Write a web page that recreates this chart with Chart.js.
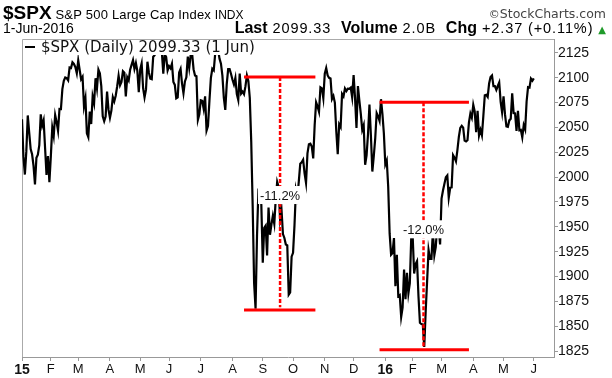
<!DOCTYPE html>
<html>
<head>
<meta charset="utf-8">
<title>$SPX S&amp;P 500 Large Cap Index</title>
<script src="https://cdn.jsdelivr.net/npm/chart.js@4.4.1/dist/chart.umd.min.js"></script>
<style>
html, body { margin: 0; padding: 0; background: #fff; }
#graphCanvas { display: block; }
</style>
</head>
<body>
<canvas id="graphCanvas" width="612" height="378"></canvas>
<script>
// ราคาปิดรายวัน $SPX (ม.ค. 2015 - 1 มิ.ย. 2016) อ่านจากกราฟ
let close2015 = [
    // Jan
    2058.2, 2020.6, 2002.6, 2025.9, 2062.1, 2044.8, 2028.3, 2023.0, 2011.3, 1992.7, 2019.4, 2022.6, 2032.1, 2063.2, 2051.8, 2057.1, 2029.6, 2002.2, 2021.3, 1995.0,
    // Feb
    2020.9, 2050.0, 2041.5, 2062.5, 2055.5, 2046.7, 2068.6, 2068.5, 2088.5, 2097.0, 2100.3, 2099.7, 2097.5, 2110.3, 2109.7, 2115.5, 2113.9, 2110.7, 2104.5,
    // Mar
    2117.4, 2107.8, 2098.5, 2101.0, 2071.3, 2079.4, 2044.2, 2040.2, 2066.0, 2053.4, 2081.2, 2074.3, 2099.5, 2089.3, 2108.1, 2104.4, 2091.5, 2061.1, 2056.2, 2061.0, 2086.2, 2067.9,
    // Apr
    2059.7, 2067.0, 2080.6, 2076.3, 2081.9, 2091.2, 2102.1, 2092.4, 2095.8, 2106.6, 2105.0, 2081.2, 2100.4, 2097.3, 2108.0, 2112.9, 2117.7, 2108.9, 2114.8, 2106.9, 2085.5,
    // May
    2108.3, 2114.5, 2089.5, 2080.2, 2088.0, 2116.1, 2105.3, 2099.1, 2098.5, 2121.1, 2122.7, 2129.2, 2127.8, 2125.9, 2130.8, 2126.1, 2104.2, 2123.5, 2120.8, 2107.4,
    // Jun
    2111.7, 2109.6, 2114.1, 2095.8, 2092.8, 2079.3, 2080.2, 2105.2, 2108.9, 2094.1, 2084.4, 2096.3, 2100.4, 2121.2, 2110.0, 2122.9, 2124.2, 2108.6, 2102.3, 2101.5, 2057.6, 2063.1,
    // Jul
    2077.4, 2076.8, 2068.8, 2081.3, 2046.7, 2051.3, 2076.6, 2099.6, 2109.0, 2107.4, 2124.3, 2126.6, 2128.3, 2119.2, 2114.2, 2102.2, 2079.7, 2067.6, 2093.3, 2108.6, 2108.6, 2103.8,
    // Aug
    2098.0, 2093.3, 2099.8, 2083.6, 2077.6, 2104.2, 2084.1, 2086.1, 2083.4, 2091.5, 2102.4, 2096.9, 2079.6, 2035.7, 1970.9, 1893.2, 1867.6, 1940.5, 1987.7, 1988.9, 1972.2,
    // Sep
    1913.9, 1948.9, 1951.1, 1921.2, 1969.4, 1942.0, 1952.3, 1961.1, 1953.0, 1978.1, 1995.3, 1990.2, 1958.0, 1967.0, 1942.7, 1938.8, 1932.2, 1931.3, 1881.8, 1884.1, 1920.0,
    // Oct
    1923.8, 1951.4, 1987.1, 1979.9, 1995.8, 2013.4, 2014.9, 2017.5, 2003.7, 1994.2, 2023.9, 2033.1, 2033.7, 2030.8, 2018.9, 2052.5, 2075.2, 2071.2, 2065.9, 2090.4, 2089.4, 2079.4,
    // Nov
    2104.1, 2109.8, 2102.3, 2099.9, 2099.2, 2078.6, 2081.7, 2075.0, 2046.0, 2023.0, 2053.2, 2050.4, 2083.6, 2081.2, 2089.2, 2086.6, 2089.1, 2088.9, 2090.1, 2080.4,
    // Dec
    2102.6, 2079.5, 2049.6, 2091.7, 2077.1, 2063.6, 2047.6, 2052.2, 2012.4, 2021.9, 2043.4, 2073.1, 2041.9, 2005.6, 2021.2, 2039.0, 2064.3, 2061.0, 2056.5, 2078.4, 2063.4, 2043.9
];

let close2016 = [
    // Jan
    2012.7, 2016.7, 1990.3, 1943.1, 1922.0, 1923.7, 1938.7, 1890.3, 1921.8, 1880.3, 1881.3, 1859.3, 1869.0, 1906.9, 1877.1, 1903.6, 1883.0, 1893.4, 1940.2,
    // Feb
    1939.4, 1903.0, 1912.5, 1915.5, 1880.1, 1853.4, 1852.2, 1851.9, 1829.1, 1864.8, 1895.6, 1926.8, 1917.8, 1917.8, 1945.5, 1921.3, 1929.8, 1951.7, 1948.1, 1932.2,
    // Mar
    1978.4, 1986.5, 1993.4, 2000.0, 2001.8, 1979.3, 1989.3, 1989.6, 2022.2, 2019.6, 2015.9, 2027.2, 2040.6, 2049.6, 2051.6, 2049.8, 2036.7, 2035.9, 2037.1, 2055.0, 2064.0, 2059.7,
    // Apr
    2072.8, 2066.1, 2045.2, 2066.7, 2041.9, 2047.6, 2042.0, 2061.7, 2082.4, 2082.8, 2080.7, 2094.3, 2100.8, 2102.4, 2091.5, 2091.6, 2087.8, 2091.7, 2095.2, 2075.8, 2065.3,
    // May
    2081.4, 2063.4, 2051.1, 2050.6, 2057.1, 2058.7, 2084.4, 2064.5, 2064.1, 2046.6, 2066.7, 2047.2, 2047.6, 2040.0, 2052.3, 2048.0, 2076.1, 2090.5, 2090.1, 2099.1, 2097.0,
    // Jun
    2099.33
];

// ตำแหน่งวันทำการแรกของแต่ละเดือน (นับจาก 2 ม.ค. 2015)
let monthTicks = [0, 20, 39, 61, 82, 102, 124, 146, 167, 188, 210, 230, 252, 271, 291, 313, 334, 355];
let monthLabels = ['15', 'F', 'M', 'A', 'M', 'J', 'J', 'A', 'S', 'O', 'N', 'D', '16', 'F', 'M', 'A', 'M', 'J'];
let yearTicks = [0, 252];
let priceTicks = [1825, 1850, 1875, 1900, 1925, 1950, 1975, 2000, 2025, 2050, 2075, 2100, 2125];

// เส้นสีแดงแสดงการลดลงสองช่วง
let dropHigh = [2100.8, 2075.4];
let dropLow = [1866.3, 1826.3];
let dropStart = [154, 248];
let dropEnd = [203.5, 310];
let dropMid = [179, 278.5];
let dropBottom = [1869, 1829];
let dropLabels = ['-11.2%', '-12.0%'];
let dropLabelY = [1982, 1947.5];

let closes = close2015.concat(close2016);
let lastClose = closes[closes.length - 1];

// วาดข้อความหลายช่วงต่อกัน: [text, font, color, letterSpacing]
function drawRuns(ctx, runs, x, y, align) {
    let total = 0;
    for (let r of runs) {
        ctx.font = r[1];
        ctx.letterSpacing = r[3] || '0px';
        total += ctx.measureText(r[0]).width;
    }
    let cx = align === 'right' ? x - total : x;
    for (let r of runs) {
        ctx.font = r[1];
        ctx.letterSpacing = r[3] || '0px';
        ctx.fillStyle = r[2] || '#000';
        ctx.fillText(r[0], cx, y);
        cx += ctx.measureText(r[0]).width;
    }
    ctx.letterSpacing = '0px';
}

// หัวกราฟ
let headerPlugin = {
    id: 'header',
    afterDraw(chart) {
        let ctx = chart.ctx;
        ctx.save();
        ctx.textBaseline = 'alphabetic';
        ctx.textAlign = 'left';
        drawRuns(ctx, [
            ['$SPX', 'bold 19px "Liberation Sans"'],
            [' S&P 500 Large Cap Index ', '13px "Liberation Sans"', '#000', '0.2px'],
            ['INDX', '12px "Liberation Sans"']
        ], 3, 19, 'left');
        drawRuns(ctx, [
            ['\u00A9', '11px "DejaVu Sans"', '#444'],
            ['StockCharts.com', '12.5px "DejaVu Sans"', '#444']
        ], 606, 18, 'right');
        drawRuns(ctx, [['1-Jun-2016', '14px "Liberation Sans"']], 3, 33, 'left');
        drawRuns(ctx, [
            ['Last', 'bold 16px "Liberation Sans"'],
            [' ' + lastClose.toFixed(2) + '  ', '14.5px "Liberation Sans"', '#000', '0.9px'],
            ['Volume', 'bold 16px "Liberation Sans"'],
            [' 2.0B  ', '14.5px "Liberation Sans"', '#000', '0.9px'],
            ['Chg', 'bold 16px "Liberation Sans"'],
            [' +2.37 (+0.11%) ', '14.5px "Liberation Sans"', '#000', '0.9px'],
            ['\u25B2', '10px "DejaVu Sans"', '#1f9a2a']
        ], 606, 33, 'right');
        ctx.restore();
    }
};

// กรอบซ้ายและบน
let framePlugin = {
    id: 'frame',
    beforeDatasetsDraw(chart) {
        let a = chart.chartArea;
        let ctx = chart.ctx;
        ctx.save();
        ctx.strokeStyle = '#aaa';
        ctx.lineWidth = 1;
        ctx.beginPath();
        ctx.moveTo(a.left + 0.5, a.bottom);
        ctx.lineTo(a.left + 0.5, a.top + 0.5);
        ctx.lineTo(a.right, a.top + 0.5);
        ctx.stroke();
        ctx.restore();
    }
};

// legend มุมบนซ้าย (มีพื้นขาวทับเส้น)
let legendPlugin = {
    id: 'spxLegend',
    afterDatasetsDraw(chart) {
        let a = chart.chartArea;
        let ctx = chart.ctx;
        let text = '$SPX (Daily) ' + lastClose.toFixed(2) + ' (1 Jun)';
        ctx.save();
        ctx.font = '15px "DejaVu Sans"';
        let w = ctx.measureText(text).width;
        ctx.fillStyle = '#fff';
        ctx.fillRect(a.left + 1, a.top + 1, w + 24, 15);
        ctx.strokeStyle = '#000';
        ctx.lineWidth = 2;
        ctx.beginPath();
        ctx.moveTo(a.left + 3, a.top + 8);
        ctx.lineTo(a.left + 13, a.top + 8);
        ctx.stroke();
        ctx.fillStyle = '#111';
        ctx.textBaseline = 'alphabetic';
        ctx.fillText(text, a.left + 19, a.top + 13);
        ctx.restore();
    }
};

// ป้ายเปอร์เซ็นต์
let dropLabelPlugin = {
    id: 'dropLabels',
    afterDatasetsDraw(chart) {
        let ctx = chart.ctx;
        let xs = chart.scales.x;
        let ys = chart.scales.y;
        ctx.save();
        ctx.font = '13px "Liberation Sans"';
        ctx.textAlign = 'center';
        ctx.textBaseline = 'middle';
        for (let k = 0; k < dropLabels.length; k++) {
            let px = xs.getPixelForValue(dropMid[k]);
            let py = ys.getPixelForValue(dropLabelY[k]);
            let w = ctx.measureText(dropLabels[k]).width;
            ctx.fillStyle = '#fff';
            ctx.fillRect(px - w / 2 - 2, py - 9, w + 4, 18);
            ctx.fillStyle = '#111';
            ctx.fillText(dropLabels[k], px, py + 1);
        }
        ctx.restore();
    }
};

let datasets = [];
for (let k = 0; k < dropHigh.length; k++) {
    datasets.push({
        data: [{ x: dropStart[k], y: dropHigh[k] }, { x: dropEnd[k], y: dropHigh[k] }],
        borderColor: '#ff0000', borderWidth: 3, pointRadius: 0, order: 0
    });
    datasets.push({
        data: [{ x: dropStart[k], y: dropLow[k] }, { x: dropEnd[k], y: dropLow[k] }],
        borderColor: '#ff0000', borderWidth: 3, pointRadius: 0, order: 0
    });
    datasets.push({
        data: [{ x: dropMid[k], y: dropHigh[k] }, { x: dropMid[k], y: dropBottom[k] }],
        borderColor: '#ff0000', borderWidth: 2.5, borderDash: [4, 2], pointRadius: 0, order: 0
    });
}
datasets.push({
    label: '$SPX',
    data: closes.map(function(v, i) { return { x: i, y: v }; }),
    borderColor: '#000',
    borderWidth: 2.2,
    pointRadius: 0,
    tension: 0,
    order: 1
});

let graphCanvas = document.getElementById('graphCanvas').getContext('2d');
let lineChart = new Chart(graphCanvas, {
    type: 'line',
    data: { datasets: datasets },
    options: {
        responsive: false,
        animation: false,
        devicePixelRatio: 1,
        layout: { padding: { top: 39, left: 22, right: 0, bottom: 0 } },
        plugins: { legend: { display: false }, tooltip: { enabled: false } },
        scales: {
            x: {
                type: 'linear',
                min: 0,
                max: 369,
                afterBuildTicks: function(scale) {
                    scale.ticks = monthTicks.map(function(v) { return { value: v }; });
                },
                afterFit: function(scale) { scale.height = 21; },
                grid: { drawOnChartArea: false, drawTicks: true, tickLength: 4, color: '#999' },
                border: { display: true, color: '#999' },
                ticks: {
                    autoSkip: false,
                    maxRotation: 0,
                    padding: 1,
                    color: '#111',
                    font: function(c) {
                        let bold = c.tick && yearTicks.indexOf(c.tick.value) >= 0;
                        return { family: '"Liberation Sans", Arial', size: bold ? 14 : 13, weight: bold ? 'bold' : 'normal' };
                    },
                    callback: function(value, index) { return monthLabels[index]; }
                }
            },
            y: {
                position: 'right',
                min: 1819,
                max: 2139,
                afterBuildTicks: function(scale) {
                    scale.ticks = priceTicks.map(function(v) { return { value: v }; });
                },
                afterFit: function(scale) { scale.width = 58; },
                grid: { drawOnChartArea: false, drawTicks: true, tickLength: 4, color: '#999' },
                border: { display: true, color: '#999' },
                ticks: {
                    padding: 0,
                    color: '#111',
                    font: { family: '"Liberation Sans", Arial', size: 14 },
                    callback: function(value) { return value; }
                }
            }
        }
    },
    plugins: [headerPlugin, framePlugin, legendPlugin, dropLabelPlugin]
});
</script>
</body>
</html>
